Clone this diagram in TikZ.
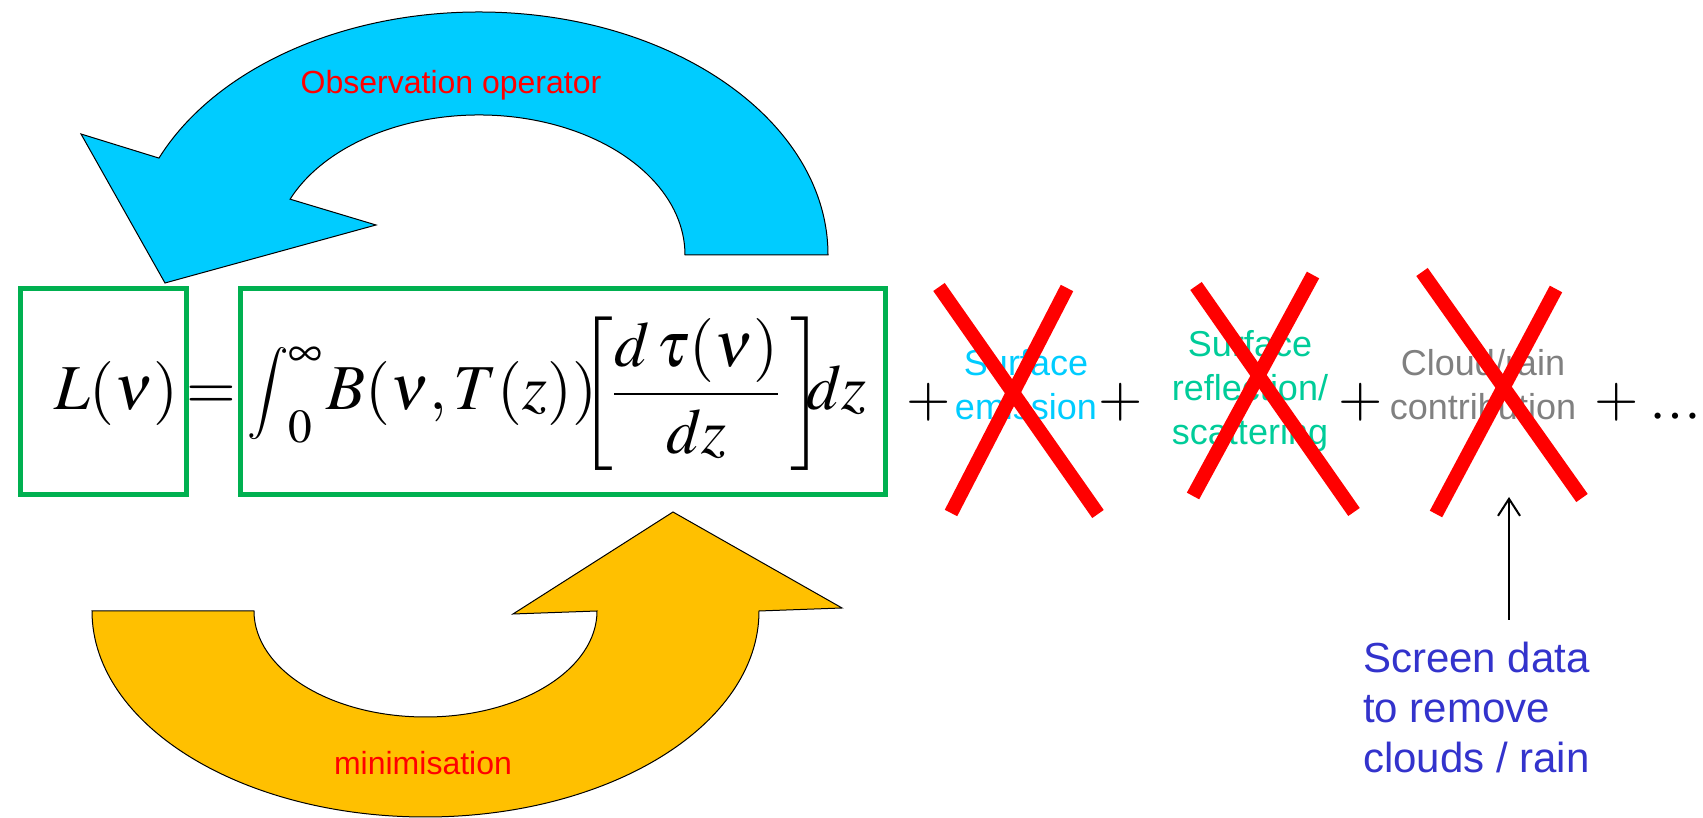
\documentclass[tikz,border=0pt]{standalone}
\usepackage{graphicx}
\usepackage{mathptmx}
\usepackage[no-math]{fontspec}
\newfontfamily\arialf{Liberation Sans}
\newfontfamily\serf{Liberation Serif}
\usetikzlibrary{arrows.meta}
\definecolor{arrowblue}{HTML}{00CCFF}
\definecolor{arrowyellow}{HTML}{FFC000}
\definecolor{boxgreen}{HTML}{00B050}
\definecolor{crossred}{HTML}{FF0000}
\definecolor{txtcyan}{HTML}{00CCFF}
\definecolor{txtgreen}{HTML}{00CC99}
\definecolor{txtgray}{HTML}{808080}
\definecolor{txtblue}{HTML}{3333CC}
\tikzset{
  bigarrow/.style={draw=black,line width=1pt,line join=miter},
  greenbox/.style={draw=boxgreen,line width=5pt},
  cross/.style={draw=crossred,line width=14pt,line cap=butt},
  eqfont/.style={inner sep=0pt,font=\fontsize{64}{77}\selectfont},
  plusfont/.style={inner sep=0pt,font=\fontsize{57}{68}\selectfont},
  termtext/.style={inner sep=0pt,align=center,anchor=base,font=\arialf\fontsize{36}{44}\selectfont},
  looplabel/.style={inner sep=0pt,anchor=base,text=crossred,font=\arialf\fontsize{32}{38}\selectfont}
}
\begin{document}
\begin{tikzpicture}[x=1pt,y=1pt]
\useasboundingbox (0,0) rectangle (1703,818);

% blue curved arrow (observation operator)
\path[bigarrow,fill=arrowblue]
  (828,563) arc[start angle=0,end angle=156.5,x radius=349pt,y radius=243pt]
  -- (81,684) -- (165,535) -- (376,593)
  -- (290.09,618.82) arc[start angle=156.5,end angle=0,x radius=206pt,y radius=140pt]
  -- cycle;
\node[looplabel] (obs) at (451,724) {Observation operator};

% yellow curved arrow (minimisation)
\path[bigarrow,fill=arrowyellow]
  (92,207) arc[start angle=180,end angle=360,x radius=333.5pt,y radius=206pt]
  -- (842,210) -- (673,306) -- (513,204)
  -- (597,207) arc[start angle=360,end angle=180,x radius=171.5pt,y radius=106pt]
  -- cycle;
\node[looplabel] (mini) at (423,43) {minimisation};

% green boxes
\draw[greenbox] (20,323) rectangle (186.5,529);
\draw[greenbox] (240,323) rectangle (885,529);

% equation
\node[eqfont,anchor=base west] (lhs) at (54,408) {$L(\nu)$};
\node[eqfont,anchor=base] (eq) at (211,408) {$=$};
\node[eqfont,anchor=base west] (rhs) at (247,408)
  {$\displaystyle\mathop{\vcenter{\hbox{\scalebox{0.72}{$\displaystyle\intop$}}}}\nolimits_0^\infty\mkern-1mu B(\nu,T(z))\mkern-5mu{\left[\frac{d\,\tau(\nu)}{dz}\mkern3mu\right]}\mkern-5mu dz$};

% plus signs
\node[plusfont] (p1) at (929,416) {$+$};
\node[plusfont] (p2) at (1121,416) {$+$};
\node[plusfont] (p3) at (1361,416) {$+$};
\node[plusfont] (p4) at (1617,416) {$+$};
\node[inner sep=0pt,anchor=base,font=\serf\fontsize{52}{60}\selectfont] (dots) at (1675,399) {…};

% terms (anchor = baseline of the last line)
\node[termtext,text=txtcyan] (emis) at (1026,398) {Surface\\emission};
\node[termtext,text=txtgreen] (refl) at (1250,373) {Surface\\reflection/\\scattering};
\node[termtext,text=txtgray] (cloud) at (1483,398) {Cloud/rain\\contribution};

% red crosses
\draw[cross] (939,531) -- (1098,304);
\draw[cross] (1067,530) -- (951,305);
\draw[cross] (1196,532) -- (1354,306);
\draw[cross] (1313,543) -- (1193,322);
\draw[cross] (1422,546) -- (1582,320);
\draw[cross] (1556,529) -- (1436,304);

% screening note
\node[inner sep=0pt,anchor=base west,align=left,text=txtblue,font=\arialf\fontsize{42}{50}\selectfont] (screen) at (1363,45) {Screen data\\to remove\\clouds / rain};
\coordinate (arrS) at (1509,198);
\coordinate (arrE) at (1509,321);
\draw[line width=2pt,-{Straight Barb[length=17pt,width=22pt]}] (arrS) -- (arrE);
\end{tikzpicture}
\end{document}
